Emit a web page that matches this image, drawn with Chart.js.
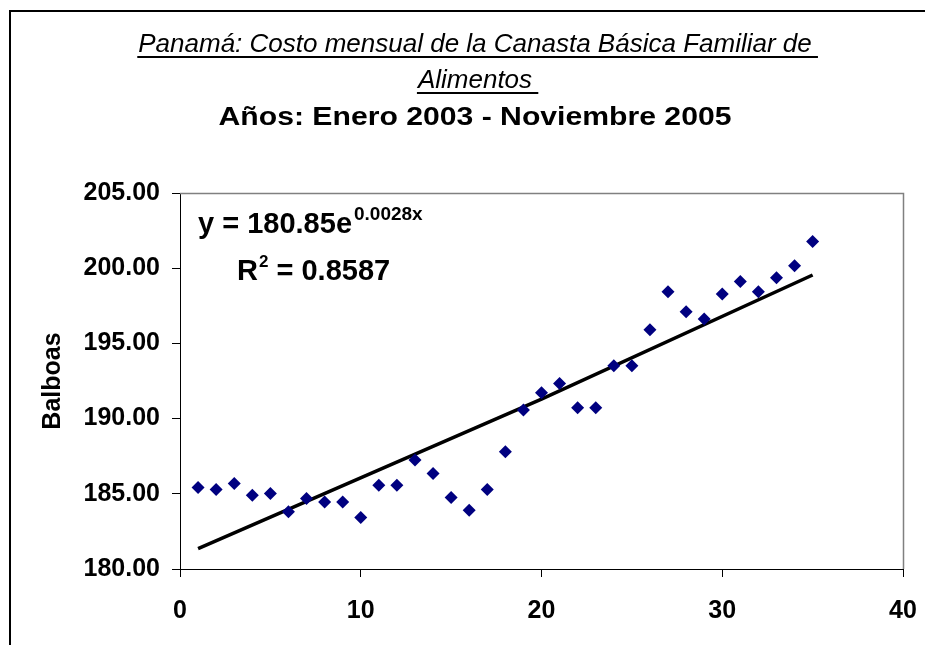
<!DOCTYPE html>
<html>
<head>
<meta charset="utf-8">
<script src="https://cdn.jsdelivr.net/npm/chart.js@4/dist/chart.umd.min.js"></script>
<style>
  html, body { margin: 0; padding: 0; background: #fff; }
  #grafico { display: block; }
</style>
</head>
<body>
<canvas id="grafico" width="925" height="645"></canvas>
<script>
// Canasta Básica Familiar de Alimentos, Panamá, ene 2003 - nov 2005

const meses = [1, 2, 3, 4, 5, 6, 7, 8, 9, 10, 11, 12, 13, 14, 15, 16, 17, 18,
               19, 20, 21, 22, 23, 24, 25, 26, 27, 28, 29, 30, 31, 32, 33, 34, 35];
const costo = [185.42, 185.29, 185.69, 184.91, 185.02, 183.80, 184.69, 184.46, 184.46, 183.42,
               185.57, 185.57, 187.24, 186.35, 184.75, 183.91, 185.29, 187.79, 190.57, 191.72,
               192.34, 190.72, 190.72, 193.52, 193.52, 195.91, 198.44, 197.11, 196.62, 198.29,
               199.11, 198.44, 199.37, 200.17, 201.77];

// línea de tendencia
const tendenciaX = [1, 20, 35];
const tendenciaY = [181.35, 191.30, 199.55];

const ticksX = [0, 10, 20, 30, 40];
const ticksY = [180, 185, 190, 195, 200, 205];

const titulo1 = 'Panamá: Costo mensual de la Canasta Básica Familiar de';
const titulo2 = 'Alimentos';
const titulo3 = 'Años: Enero 2003 - Noviembre 2005';
const ecuacion = 'y = 180.85e';
const exponente = '0.0028x';
const r2valor = ' = 0.8587';

const FUENTE = "'Liberation Sans', Arial, sans-serif";
Chart.defaults.font.family = FUENTE;
Chart.defaults.color = '#000';

function textoSubrayado(ctx, txt, cx, base, font) {
    ctx.font = font;
    const w = ctx.measureText(txt).width;
    const extra = ctx.measureText(' ').width;
    const x0 = cx - w / 2;
    ctx.textAlign = 'left';
    ctx.fillText(txt, x0, base);
    ctx.fillRect(x0 - 1, base + 4, w + extra, 2);
}

const decorado = {
    id: 'decorado',
    afterDraw(chart) {
        const ctx = chart.ctx;
        const a = chart.chartArea;
        ctx.save();
        // marco exterior
        ctx.strokeStyle = '#000';
        ctx.lineWidth = 2;
        ctx.beginPath();
        ctx.moveTo(10, 700);
        ctx.lineTo(10, 11);
        ctx.lineTo(930, 11);
        ctx.stroke();

        // borde superior y derecho del área
        ctx.strokeStyle = '#808080';
        ctx.lineWidth = 1.5;
        ctx.beginPath();
        ctx.moveTo(a.left, a.top + 0.5);
        ctx.lineTo(a.right + 0.5, a.top + 0.5);
        ctx.lineTo(a.right + 0.5, a.bottom);
        ctx.stroke();

        // títulos
        ctx.fillStyle = '#000';
        ctx.textBaseline = 'alphabetic';
        const cx = 475;
        textoSubrayado(ctx, titulo1, cx, 52, 'italic 26px ' + FUENTE);
        textoSubrayado(ctx, titulo2, cx, 88, 'italic 26px ' + FUENTE);
        // subtítulo en negrita, algo más ancho
        ctx.save();
        ctx.font = 'bold 26px ' + FUENTE;
        ctx.textAlign = 'center';
        ctx.translate(cx, 125);
        ctx.scale(1.16, 1);
        ctx.fillText(titulo3, 0, 0);
        ctx.restore();

        // ecuación de la tendencia
        ctx.textAlign = 'left';
        ctx.font = 'bold 29px ' + FUENTE;
        let x = a.left + 18;
        ctx.fillText(ecuacion, x, 233);
        x += ctx.measureText(ecuacion).width + 2;
        ctx.font = 'bold 19px ' + FUENTE;
        ctx.fillText(exponente, x, 220);

        x = a.left + 57;
        ctx.font = 'bold 29px ' + FUENTE;
        ctx.fillText('R', x, 280);
        x += ctx.measureText('R').width + 1;
        ctx.font = 'bold 17px ' + FUENTE;
        ctx.fillText('2', x, 267);
        x += ctx.measureText('2').width;
        ctx.font = 'bold 29px ' + FUENTE;
        ctx.fillText(r2valor, x, 280);
        ctx.restore();
    }
};

const ctx = document.getElementById('grafico').getContext('2d');
new Chart(ctx, {
    type: 'scatter',
    data: {
        datasets: [{
            label: 'Costo',
            data: meses.map((m, i) => ({ x: m, y: costo[i] })),
            pointStyle: 'rectRot',
            pointRadius: 6.5,
            pointHoverRadius: 6.5,
            backgroundColor: '#000080',
            borderColor: '#000080',
            borderWidth: 0,
            order: 1
        }, {
            label: 'Tendencia',
            type: 'line',
            data: tendenciaX.map((m, i) => ({ x: m, y: tendenciaY[i] })),
            borderColor: '#000',
            borderWidth: 3.5,
            pointRadius: 0,
            fill: false,
            tension: 0,
            order: 2
        }]
    },
    options: {
        responsive: false,
        animation: false,
        devicePixelRatio: 1,
        layout: { padding: { left: 0, top: 193, right: 22, bottom: 0 } },
        plugins: {
            legend: { display: false },
            tooltip: { enabled: false }
        },
        scales: {
            x: {
                type: 'linear',
                min: 0,
                max: 40,
                afterFit: s => { s.height = 76; s.paddingLeft = 0; s.paddingRight = 0; },
                afterBuildTicks: s => { s.ticks = ticksX.map(v => ({ value: v })); },
                grid: { drawOnChartArea: false, drawTicks: true, tickLength: 8, color: '#000' },
                border: { color: '#000', width: 1 },
                ticks: {
                    padding: 19,
                    font: { size: 25, weight: 'bold' },
                    maxRotation: 0
                }
            },
            y: {
                type: 'linear',
                min: 180,
                max: 205,
                afterFit: s => { s.width = 180; s.paddingTop = 0; s.paddingBottom = 0; },
                afterBuildTicks: s => { s.ticks = ticksY.map(v => ({ value: v })); },
                grid: { drawOnChartArea: false, drawTicks: true, tickLength: 8, color: '#000' },
                border: { color: '#000', width: 1 },
                ticks: {
                    padding: 12,
                    font: { size: 25, weight: 'bold' },
                    callback: v => Number(v).toFixed(2)
                },
                title: {
                    display: true,
                    text: 'Balboas',
                    font: { size: 25, weight: 'bold', lineHeight: 1.2 },
                    padding: { top: 38, bottom: 0 }
                }
            }
        }
    },
    plugins: [decorado]
});
</script>
</body>
</html>
